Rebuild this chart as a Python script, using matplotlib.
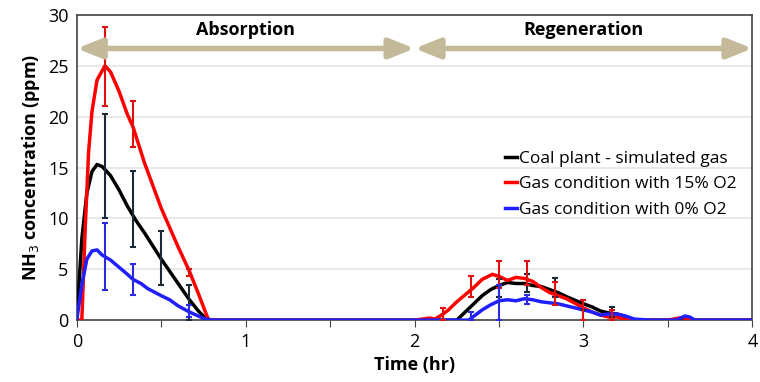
import numpy as np
from matplotlib import pyplot as plt

plt.rcParams['font.family'] = ['Open Sans', 'DejaVu Sans']

# curves (time in hr, NH3 in ppm)
coal_t = [0, 0.03, 0.06, 0.09, 0.12, 0.15, 0.2, 0.25, 0.3, 0.35, 0.4, 0.5, 0.6, 0.667, 0.72, 0.76, 0.8,
          2.0, 2.25, 2.3, 2.35, 2.4, 2.45, 2.5, 2.55, 2.6, 2.65, 2.7, 2.75, 2.8, 2.85, 2.9, 3.0, 3.05,
          3.1, 3.15, 3.2, 3.25, 3.3, 3.4, 4.0]
coal_y = [0, 8.0, 12.5, 14.6, 15.3, 15.1, 14.2, 12.8, 11.2, 9.8, 8.6, 6.0, 3.6, 2.0, 0.9, 0.2, 0,
          0, 0, 0.8, 1.6, 2.4, 3.0, 3.4, 3.7, 3.6, 3.6, 3.4, 3.3, 3.0, 2.7, 2.3, 1.6, 1.3,
          0.9, 0.7, 0.6, 0.3, 0.05, 0, 0]

red_t = [0, 0.03, 0.05, 0.07, 0.09, 0.12, 0.167, 0.2, 0.25, 0.3, 0.333, 0.4, 0.5, 0.6, 0.667, 0.72,
         0.78, 0.8, 2.0, 2.09, 2.12, 2.16, 2.2, 2.25, 2.3, 2.35, 2.4, 2.46, 2.5, 2.55, 2.6, 2.65, 2.7,
         2.75, 2.8, 2.9, 3.0, 3.05, 3.1, 3.15, 3.2, 3.25, 3.3, 3.5, 3.58, 3.62, 3.65, 4.0]
red_y = [0, 0, 9.0, 16.5, 20.5, 23.6, 25.0, 24.4, 22.5, 20.2, 19.0, 15.5, 11.0, 7.2, 4.8, 2.6,
         0, 0, 0, 0.2, 0.1, 0.5, 1.0, 1.8, 2.5, 3.2, 4.0, 4.5, 4.3, 3.9, 4.2, 4.1, 3.8,
         3.2, 2.7, 2.1, 1.2, 0.8, 0.5, 0.3, 0.3, 0.05, 0, 0, 0.25, 0.1, 0, 0]

blue_t = [0, 0.03, 0.06, 0.09, 0.12, 0.15, 0.2, 0.25, 0.3, 0.333, 0.38, 0.42, 0.5, 0.55, 0.6, 0.667,
          0.72, 0.76, 0.8, 2.0, 2.32, 2.36, 2.4, 2.45, 2.5, 2.55, 2.6, 2.65, 2.7, 2.75, 2.8, 2.85,
          2.9, 3.0, 3.05, 3.1, 3.15, 3.2, 3.25, 3.3, 3.4, 3.55, 3.6, 3.63, 3.66, 4.0]
blue_y = [0, 3.5, 6.0, 6.8, 6.9, 6.4, 5.9, 5.2, 4.5, 4.0, 3.6, 3.1, 2.4, 2.0, 1.4, 0.8,
          0.4, 0.1, 0, 0, 0, 0.5, 1.0, 1.5, 1.9, 2.0, 1.9, 2.1, 2.0, 1.8, 1.7, 1.6,
          1.4, 1.0, 0.8, 0.5, 0.6, 0.6, 0.4, 0.1, 0, 0, 0.4, 0.3, 0, 0]

# error bars: x, low, high
coal_err_t = [0.167, 0.333, 0.5, 0.667, 2.5, 2.667, 2.833, 3.0, 3.167]
coal_err_lo = [10.0, 7.2, 3.5, 0.0, 2.3, 2.8, 2.3, 1.0, 0.3]
coal_err_hi = [20.3, 14.7, 8.8, 3.5, 4.0, 4.5, 4.1, 2.0, 1.3]

red_err_t = [0.167, 0.333, 0.667, 2.167, 2.333, 2.5, 2.667, 2.833, 3.0, 3.167]
red_err_lo = [21.0, 17.0, 4.3, 0.0, 2.3, 3.2, 3.5, 1.5, 0.0, 0.0]
red_err_hi = [28.8, 21.5, 5.0, 1.2, 4.3, 5.8, 5.8, 3.7, 2.0, 1.0]

blue_err_t = [0.167, 0.333, 0.667, 2.333, 2.5, 2.667]
blue_err_lo = [3.0, 2.5, 0.3, 0.0, 0.0, 1.6]
blue_err_hi = [9.5, 5.5, 1.5, 0.8, 3.5, 2.5]

labels = ['Coal plant - simulated gas', 'Gas condition with 15% O2', 'Gas condition with 0% O2']


def draw_err(ax, t, lo, hi, color):
    t = np.array(t)
    lo = np.array(lo)
    hi = np.array(hi)
    mid = (lo + hi) / 2
    ax.errorbar(t, mid, yerr=[mid - lo, hi - mid], fmt='none', ecolor=color,
                elinewidth=1.5, capsize=2, capthick=1.5, zorder=4)


fig = plt.figure(figsize=(7.6, 3.82), dpi=100)
ax = fig.add_axes([0.101, 0.162, 0.889, 0.799])

ax.plot(coal_t, coal_y, color='black', lw=2.5, label=labels[0], zorder=3)
ax.plot(red_t, red_y, color='#FF0000', lw=2.5, label=labels[1], zorder=3)
ax.plot(blue_t, blue_y, color='#1F1FFF', lw=2.5, label=labels[2], zorder=3)

draw_err(ax, coal_err_t, coal_err_lo, coal_err_hi, '#1C2B3A')
draw_err(ax, red_err_t, red_err_lo, red_err_hi, '#E01010')
draw_err(ax, blue_err_t, blue_err_lo, blue_err_hi, '#2A2AE0')

arrow_col = '#C4BA9A'
for x0, x1 in [(0, 2), (2, 4)]:
    ax.annotate('', xy=(x0, 26.7), xytext=(x1, 26.7),
                arrowprops=dict(arrowstyle='<|-|>,head_length=1.5,head_width=0.6',
                                color=arrow_col, lw=4, shrinkA=0, shrinkB=0), zorder=5)
ax.text(1.0, 28.5, 'Absorption', ha='center', va='center', fontsize=13, fontweight='bold')
ax.text(3.0, 28.5, 'Regeneration', ha='center', va='center', fontsize=13, fontweight='bold')

ax.set_xlim(0, 4)
ax.set_ylim(0, 30)
ax.set_xticks(np.arange(0, 4.01, 0.5))
ax.set_xticklabels(['0', '', '1', '', '2', '', '3', '', '4'], fontsize=13)
ax.set_yticks(np.arange(0, 31, 5))
ax.tick_params(axis='y', length=0, labelsize=13, pad=6)
ax.tick_params(axis='x', length=5, color='#444444', pad=4)
ax.yaxis.grid(True, color='#E4E4E4', lw=1.2)
ax.set_axisbelow(True)
for s in ax.spines.values():
    s.set_color('#444444')
    s.set_linewidth(1.2)

ax.set_xlabel('Time (hr)', fontsize=13, fontweight='bold')
ax.set_ylabel('NH$_3$ concentration (ppm)', fontsize=13, fontweight='bold')

ax.legend(loc='center right', bbox_to_anchor=(1.0, 0.445), frameon=False, fontsize=12.5,
          handlelength=0.7, handletextpad=0.1, labelspacing=0.55)

fig.savefig('out.png')
